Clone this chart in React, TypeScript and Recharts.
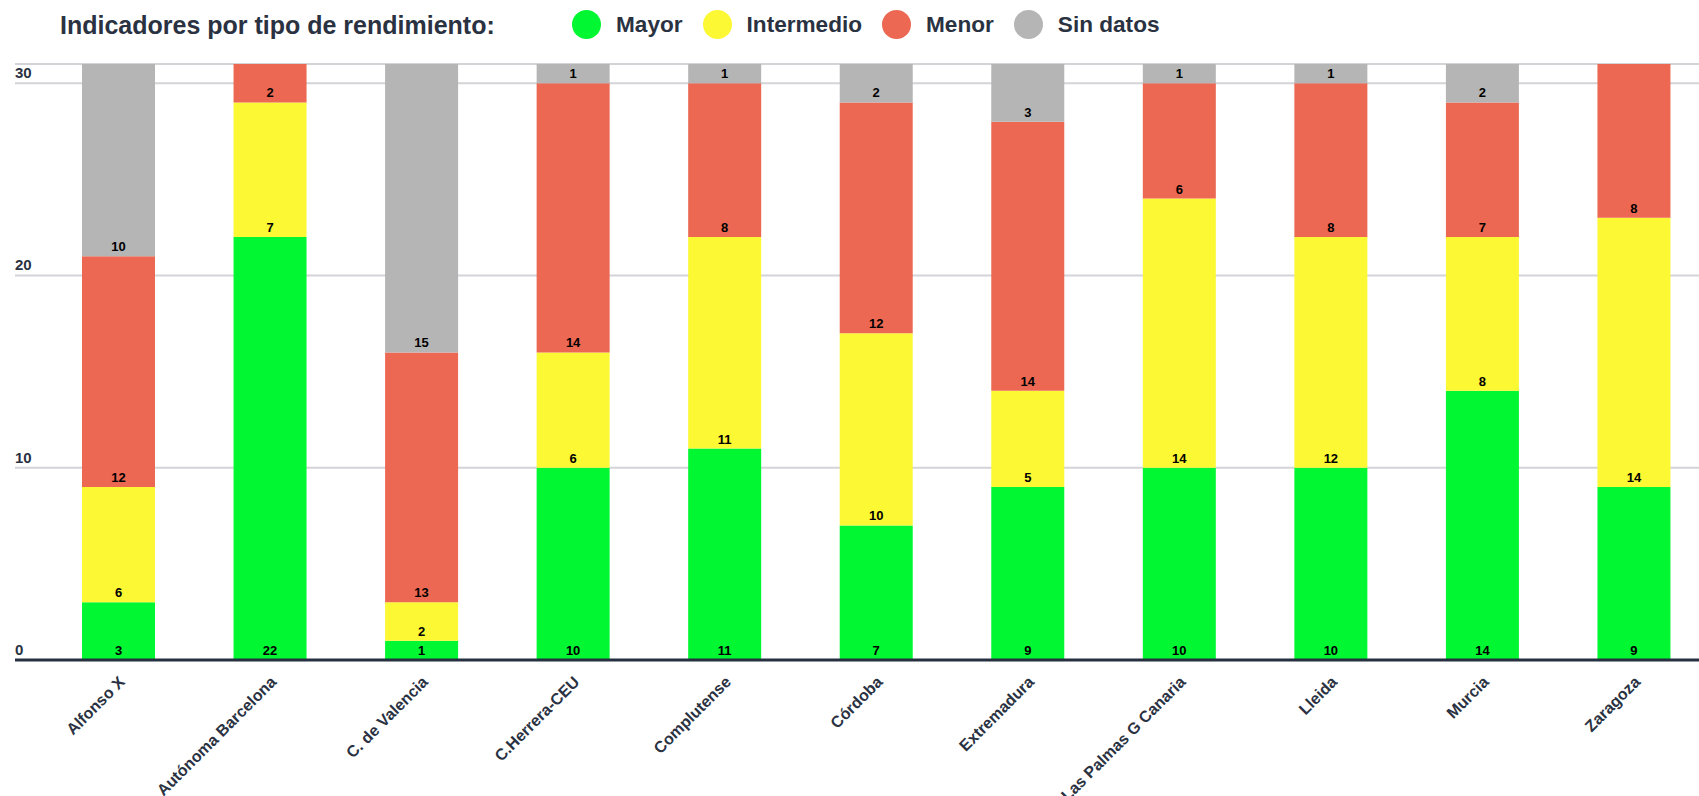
import React from 'react'
import { BarChart, Bar, XAxis, YAxis, CartesianGrid, LabelList } from 'recharts'

// ── Data ─────────────────────────────────────────────────────────────────────
const CATEGORIES = [
  'Alfonso X',
  'Autónoma Barcelona',
  'C. de Valencia',
  'C.Herrera-CEU',
  'Complutense',
  'Córdoba',
  'Extremadura',
  'Las Palmas G Canaria',
  'Lleida',
  'Murcia',
  'Zaragoza',
]
const MAYOR      = [3, 22, 1, 10, 11, 7, 9, 10, 10, 14, 9]
const INTERMEDIO = [6, 7, 2, 6, 11, 10, 5, 14, 12, 8, 14]
const MENOR      = [12, 2, 13, 14, 8, 12, 14, 6, 8, 7, 8]
const SIN_DATOS  = [10, 0, 15, 1, 1, 2, 3, 1, 1, 2, 0]
const Y_TICKS = [0, 10, 20, 30]

const SERIES = [
  { key: 'mayor',      name: 'Mayor',      color: '#00f731' },
  { key: 'intermedio', name: 'Intermedio', color: '#fcf834' },
  { key: 'menor',      name: 'Menor',      color: '#ec6852' },
  { key: 'sinDatos',   name: 'Sin datos',  color: '#b5b5b5' },
]

const data = CATEGORIES.map((name, i) => ({
  name,
  mayor: MAYOR[i],
  intermedio: INTERMEDIO[i],
  menor: MENOR[i],
  sinDatos: SIN_DATOS[i],
}))

const FONT = '"Liberation Sans", Arial, Helvetica, sans-serif'
const INK = '#2a3242'

// ─────────────────────────────────────────────────────────────────────────────

const XTick = ({ x, y, payload }: any) => {
  const ax = x + 7
  const ay = y + 23
  return (
    <text
      x={ax}
      y={ay}
      transform={`rotate(-45 ${ax} ${ay})`}
      textAnchor="end"
      fontSize={16}
      fontWeight="bold"
      fontFamily={FONT}
      fill={INK}
    >
      {payload.value}
    </text>
  )
}

const YTick = ({ x, y, payload }: any) => (
  <text x={x} y={y - 5} textAnchor="start" fontSize={15} fontWeight="bold" fontFamily={FONT} fill={INK}>
    {payload.value}
  </text>
)

const hideZero = (v: any) => (v ? v : '')

export default function App() {
  return (
    <div
      style={{
        position: 'fixed',
        left: 0,
        top: 0,
        width: 1699,
        height: 796,
        overflow: 'hidden',
        background: '#fff',
        fontFamily: FONT,
      }}
    >
      <div
        style={{
          position: 'absolute',
          left: 60,
          top: 10,
          height: 30,
          display: 'flex',
          alignItems: 'center',
          fontSize: 25,
          fontWeight: 'bold',
          color: INK,
          whiteSpace: 'nowrap',
        }}
      >
        Indicadores por tipo de rendimiento:
      </div>
      <div
        style={{
          position: 'absolute',
          left: 572,
          top: 10,
          height: 29,
          display: 'flex',
          alignItems: 'center',
          fontSize: 22.6,
          fontWeight: 'bold',
          color: INK,
          whiteSpace: 'nowrap',
        }}
      >
        {SERIES.map((s) => (
          <div key={s.key} style={{ display: 'flex', alignItems: 'center', marginRight: 20 }}>
            <span
              style={{
                width: 29,
                height: 29,
                borderRadius: '50%',
                background: s.color,
                display: 'inline-block',
                marginRight: 15,
              }}
            />
            <span>{s.name}</span>
          </div>
        ))}
      </div>

      <BarChart
        width={1720}
        height={796}
        data={data}
        margin={{ top: 64, right: 0, bottom: 0, left: 0 }}
      >
        <CartesianGrid vertical={false} stroke="#d4d4d8" strokeWidth={2} />
        <XAxis
          dataKey="name"
          interval={0}
          height={136}
          padding={{ left: 28, right: 10 }}
          tickLine={false}
          tickSize={0}
          tickMargin={0}
          axisLine={{ stroke: '#263040', strokeWidth: 3 }}
          tick={<XTick />}
        />
        <YAxis
          width={15}
          domain={[0, 31]}
          ticks={Y_TICKS}
          interval={0}
          axisLine={false}
          tickLine={false}
          tickSize={0}
          tickMargin={0}
          tick={<YTick />}
        />
        {SERIES.map((s) => (
          <Bar
            key={s.key}
            dataKey={s.key}
            name={s.name}
            stackId="a"
            fill={s.color}
            barSize={73}
            isAnimationActive={false}
          >
            <LabelList
              dataKey={s.key}
              position="insideBottom"
              offset={5}
              formatter={hideZero}
              fill="#000"
              fontSize={13}
              fontWeight="bold"
              fontFamily={FONT}
            />
          </Bar>
        ))}
      </BarChart>
    </div>
  )
}
